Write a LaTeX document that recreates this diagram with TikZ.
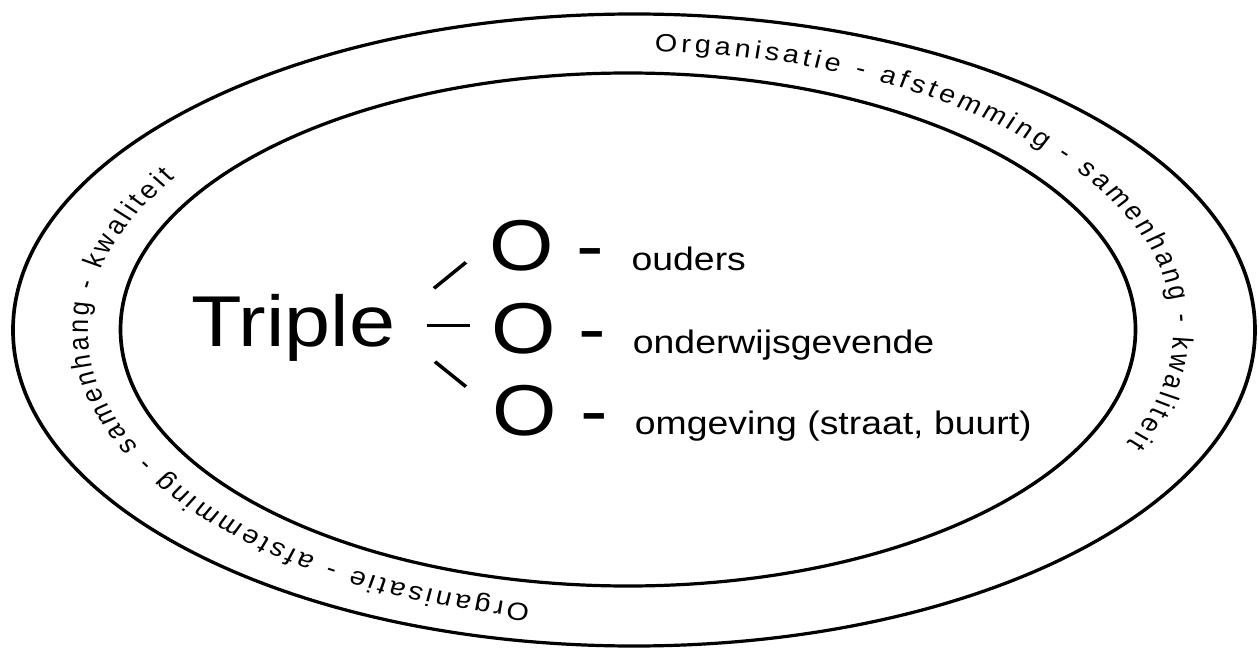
\documentclass[tikz,border=0pt]{standalone}
\usepackage{fontspec}
\setmainfont{Liberation Sans}
\usetikzlibrary{decorations.text}

\newcommand\ringfont{\fontsize{25}{25}\selectfont}
\newcommand\bigfont{\fontsize{72}{80}\selectfont}
\newcommand\labelfont{\fontsize{32.5}{36}\selectfont}

\tikzset{
  ring/.style={line width=3.2pt},
  branch/.style={line width=3.3pt},
  bigtext/.style={inner sep=0pt, anchor=base west, font=\bigfont},
  labeltext/.style={inner sep=0pt, anchor=base west, font=\labelfont},
  ringtext/.style={decorate, decoration={text along path,
      text align={fit to path}, text={|\ringfont|#1}}}
}

\begin{document}
\begin{tikzpicture}[x=1pt,y=1pt]
\path[use as bounding box, fill=white] (0,0) rectangle (1259,649);
% everything is drawn in a frame that is widened horizontally
\begin{scope}[transform canvas={xscale=1.15}]
  \coordinate (oc) at (551.30,319);
  \coordinate (ic) at (546.09,319.5);
  \coordinate (tc) at (548.70,319);

  % outer and inner ellipse
  \draw[ring] (oc) ellipse[x radius=540pt, y radius=316pt];
  \draw[ring] (ic) ellipse[x radius=441.3pt, y radius=256.5pt];

  % text running round the ring, clockwise
  \path (tc) ++(87.5:472.17pt and 279pt) coordinate (r1);
  \path (tc) ++(259.3:472.17pt and 279pt) coordinate (r2);
  \path[ringtext={Organisatie - afstemming - samenhang - kwaliteit}]
    (r1) arc[start angle=87.5, end angle=-24, x radius=472.17pt, y radius=279pt];
  \path[ringtext={Organisatie - afstemming - samenhang - kwaliteit}]
    (r2) arc[start angle=259.3, end angle=147, x radius=472.17pt, y radius=279pt];

  % centre: Triple O
  \node[bigtext] (triple) at (166.1,302) {Triple};
  \node[bigtext] (o1) at (425.22,378) {O -};
  \node[bigtext] (o2) at (426.96,295.4) {O -};
  \node[bigtext] (o3) at (428.43,214) {O -};

  \node[labeltext] (l1) at (549.04,378) {ouders};
  \node[labeltext] (l2) at (550.17,295.4) {onderwijsgevende};
  \node[labeltext] (l3) at (551.91,214.5) {omgeving (straat, buurt)};

  % branches from Triple to the three O's
  \coordinate (b1s) at (377.39,360.7);
  \coordinate (b1e) at (405.22,386.7);
  \coordinate (b2s) at (371.04,323.3);
  \coordinate (b2e) at (408.70,323.3);
  \coordinate (b3s) at (378.26,287.3);
  \coordinate (b3e) at (405.22,262.3);
  \draw[branch] (b1s) -- (b1e);
  \draw[branch] (b2s) -- (b2e);
  \draw[branch] (b3s) -- (b3e);
\end{scope}
\end{tikzpicture}
\end{document}
